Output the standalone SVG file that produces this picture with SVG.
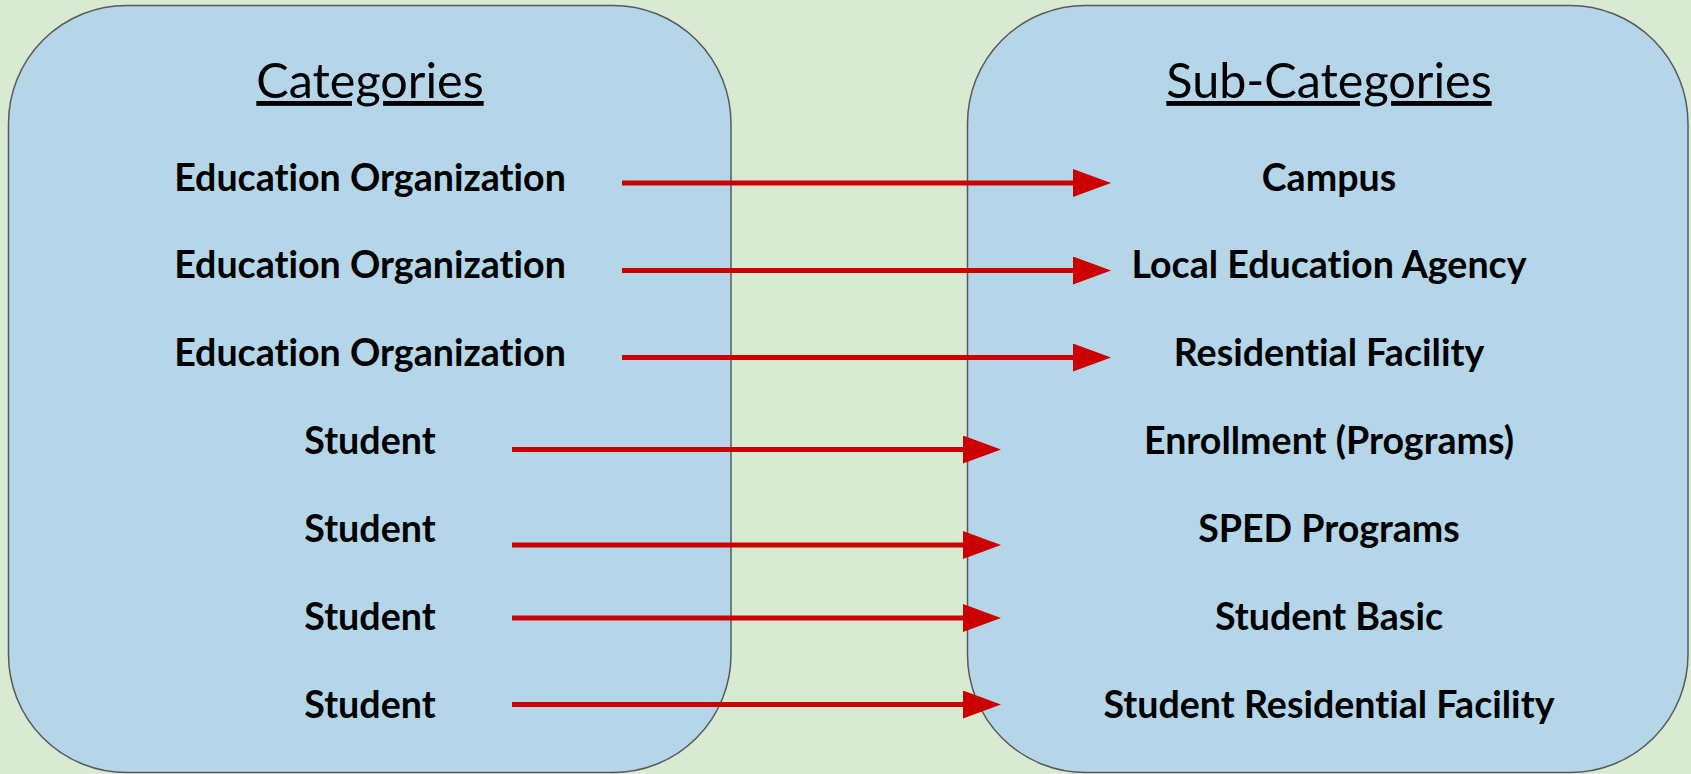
<svg xmlns="http://www.w3.org/2000/svg" width="1691" height="774" viewBox="0 0 1691 774">
<style>
.box{fill:#b4d6e8;stroke:#595959;stroke-width:1.5}
text{font-variant-ligatures:none;font-feature-settings:"liga" 0,"clig" 0}
.title{font-family:Lato,"Liberation Sans",sans-serif;font-size:48.5px;fill:#000;text-anchor:middle;text-decoration:underline;text-decoration-skip-ink:none}
.lbl{font-family:Lato,"Liberation Sans",sans-serif;font-size:37.6px;font-weight:bold;fill:#000;text-anchor:middle}
.arr{stroke:#cc0000;stroke-width:5;fill:none;marker-end:url(#ah)}
</style>
<defs>
<marker id="ah" markerUnits="userSpaceOnUse" markerWidth="40" markerHeight="30" refX="0" refY="14" orient="auto" viewBox="0 0 40 30">
<path d="M0,0 L38,14 L0,28 Z" fill="#cc0000"/>
</marker>
</defs>
<rect x="0" y="0" width="1691" height="774" fill="#d9ead3"/>
<g id="categories">
<rect class="box" x="8.5" y="5.5" width="722.5" height="767" rx="118" ry="118"/>
<text class="title" x="370" y="98">Categories</text>
</g>
<g id="subcategories">
<rect class="box" x="967.5" y="5.5" width="720.5" height="767" rx="118" ry="118"/>
<text class="title" x="1329" y="98">Sub-Categories</text>
</g>
<g id="left-labels">
<text class="lbl" x="370" y="190.5">Education Organization</text>
<text class="lbl" x="370" y="278">Education Organization</text>
<text class="lbl" x="370" y="366">Education Organization</text>
<text class="lbl" x="370" y="454">Student</text>
<text class="lbl" x="370" y="542">Student</text>
<text class="lbl" x="370" y="630">Student</text>
<text class="lbl" x="370" y="718">Student</text>
</g>
<g id="right-labels">
<text class="lbl" x="1329" y="190.5">Campus</text>
<text class="lbl" x="1329" y="278">Local Education Agency</text>
<text class="lbl" x="1329" y="366">Residential Facility</text>
<text class="lbl" x="1329" y="454">Enrollment (Programs)</text>
<text class="lbl" x="1329" y="542">SPED Programs</text>
<text class="lbl" x="1329" y="630">Student Basic</text>
<text class="lbl" x="1329" y="718">Student Residential Facility</text>
</g>
<g id="connectors">
<line class="arr" x1="622" y1="183" x2="1073" y2="183"/>
<line class="arr" x1="622" y1="270.5" x2="1073" y2="270.5"/>
<line class="arr" x1="622" y1="357.5" x2="1073" y2="357.5"/>
<line class="arr" x1="512" y1="449.5" x2="963" y2="449.5"/>
<line class="arr" x1="512" y1="545" x2="963" y2="545"/>
<line class="arr" x1="512" y1="618" x2="963" y2="618"/>
<line class="arr" x1="512" y1="704.5" x2="963" y2="704.5"/>
</g>
</svg>
